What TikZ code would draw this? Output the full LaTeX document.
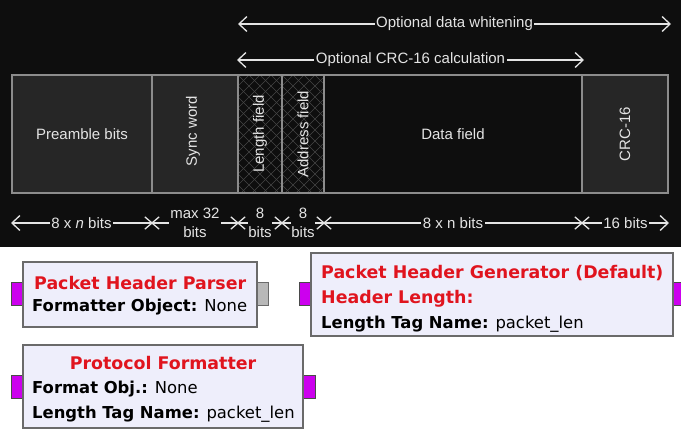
\documentclass[tikz,border=0pt]{standalone}
\usepackage{fontspec}
\setmainfont{Liberation Sans}
\newfontfamily\dvfont{DejaVu Sans}
\usetikzlibrary{arrows.meta,shapes.misc}
\definecolor{bg}{HTML}{0E0E0E}
\definecolor{cellfill}{HTML}{262626}
\definecolor{cellline}{HTML}{8C8C8C}
\definecolor{txt}{HTML}{E4E4E4}
\definecolor{hatchc}{HTML}{464646}
\definecolor{blkfill}{HTML}{EEEEFB}
\definecolor{blkline}{HTML}{6A6A6A}
\definecolor{portc}{HTML}{CC00EE}
\definecolor{gportc}{HTML}{B8B8B8}
\definecolor{grcred}{HTML}{E0141E}
\tikzset{
  tip/.tip={Straight Barb[length=8pt,width=15pt]},
  cell/.style={draw=cellline, line width=1.2pt, inner sep=0pt, minimum height=118pt},
  rot/.style={text=txt, rotate=90, font=\fontsize{15pt}{17pt}\selectfont},
  flat/.style={text=txt, font=\fontsize{15pt}{17pt}\selectfont},
  arr/.style={draw=txt, line width=1.3pt, -tip},
  dimline/.style={draw=txt, line width=1.3pt},
  lbl/.style={fill=bg, text=txt, inner sep=1.5pt, font=\fontsize{15pt}{17pt}\selectfont, align=center},
  xmark/.style={cross out, draw=txt, line width=1.3pt, minimum width=13pt, minimum height=11pt, inner sep=0pt},
  blk/.style={draw=blkline, fill=blkfill, line width=1.8pt, inner sep=0pt},
  portm/.style={draw=blkline!70!black, fill=portc, line width=0.6pt, minimum width=12pt, minimum height=23pt, inner sep=0pt},
  portg/.style={draw=blkline, fill=gportc, line width=1pt, minimum width=11pt, minimum height=23pt, inner sep=0pt},
  ttl/.style={text=grcred, font=\dvfont\bfseries\fontsize{17.4pt}{20pt}\selectfont, inner sep=0pt},
  prm/.style={text=black, font=\dvfont\fontsize{16.4pt}{20pt}\selectfont, inner sep=0pt},
}
\begin{document}
\begin{tikzpicture}[x=1pt,y=-1pt]
\useasboundingbox (0,0) rectangle (681,436);
\fill[white] (0,0) rectangle (681,436);
\fill[bg] (0,0) rectangle (681,247);

% hatch for length/address fields
\begin{scope}
  \clip (238,75) rectangle (324,193);
  \foreach \k in {-12,...,20} {
    \draw[hatchc, line width=0.6pt] (238+\k*11,75) -- ++(118,118);
    \draw[hatchc, line width=0.6pt] (238+\k*11,75) -- ++(-118,118);
  }
\end{scope}

% packet cells
\node[cell, fill=cellfill, minimum width=140pt] (pre) at (82,134) {};
\node[cell, fill=cellfill, minimum width=86pt] (sync) at (195,134) {};
\node[cell, minimum width=44pt] (len) at (260,134) {};
\node[cell, minimum width=42pt] (addr) at (303,134) {};
\node[cell, minimum width=258pt] (data) at (453,134) {};
\node[cell, fill=cellfill, minimum width=86pt] (crc) at (625,134) {};

\node[flat] (tpre) at (pre) {Preamble bits};
\node[rot] (tsync) at (193,131) {Sync word};
\node[rot] (tlen) at (len) {Length field};
\node[rot] (taddr) at (addr) {Address field};
\node[flat] (tdata) at (data) {Data field};
\node[rot] (tcrc) at (crc) {CRC-16};

% top arrows
\coordinate (w0) at (238,24);
\coordinate (w1) at (671,24);
\coordinate (c0) at (237,60);
\coordinate (c1) at (584,60);
\draw[arr, tip-tip] (w0) -- node[lbl] (lw) {Optional data whitening} (w1);
\draw[arr, tip-tip] (c0) -- node[lbl] (lc) {Optional CRC-16 calculation} (c1);

% dimension row
\coordinate (d0) at (11,223);
\node[xmark] (x1) at (152,223) {};
\node[xmark] (x2) at (238,223) {};
\node[xmark] (x3) at (282,223) {};
\node[xmark] (x4) at (324,223) {};
\node[xmark] (x5) at (582,223) {};
\coordinate (d6) at (669,223);
\draw[arr, tip-] (d0) -- node[lbl] (l1) {8 x \textit{n} bits} (x1.center);
\draw[dimline] (x1.center) -- node[lbl, inner sep=1pt, font=\fontsize{15pt}{19pt}\selectfont] (l2) {max 32\\bits} (x2.center);
\draw[dimline] (x2.center) -- node[lbl, inner sep=0.5pt, font=\fontsize{15pt}{19pt}\selectfont] (l3) {8\\bits} (x3.center);
\draw[dimline] (x3.center) -- node[lbl, inner sep=0.5pt, font=\fontsize{15pt}{19pt}\selectfont] (l4) {8\\bits} (x4.center);
\draw[dimline] (x4.center) -- node[lbl] (l5) {8 x n bits} (x5.center);
\draw[arr] (x5.center) -- node[lbl] (l6) {16 bits} (d6);

% GRC blocks: ports first
\node[portm] (p1l) at (17,293.5) {};
\node[portg] (p1r) at (262.5,293.5) {};
\node[portm] (p2l) at (305,293.5) {};
\node[portm] (p2r) at (679,293.5) {};
\node[portm] (p3l) at (17,386.5) {};
\node[portm] (p3r) at (309,386.5) {};

\node[blk, minimum width=234pt, minimum height=65pt] (b1) at (140,294.5) {};
\node[blk, minimum width=362pt, minimum height=83pt] (b2) at (492,294.5) {};
\node[blk, minimum width=280pt, minimum height=83pt] (b3) at (163,386.5) {};

\node[ttl, anchor=base west] (b1t) at (34,289) {Packet Header Parser};
\node[prm, anchor=base west] (b1a) at (32,311) {\textbf{Formatter Object:} None};

\node[ttl, anchor=base west] (b2t) at (321,278) {Packet Header Generator (Default)};
\node[ttl, anchor=base west] (b2a) at (321,303) {Header Length:};
\node[prm, anchor=base west] (b2b) at (321,328) {\textbf{Length Tag Name:} packet\_len};

\node[ttl, anchor=base] (b3t) at (163,369) {Protocol Formatter};
\node[prm, anchor=base west] (b3a) at (32,393) {\textbf{Format Obj.:} None};
\node[prm, anchor=base west] (b3b) at (32,418) {\textbf{Length Tag Name:} packet\_len};
\end{tikzpicture}
\end{document}
